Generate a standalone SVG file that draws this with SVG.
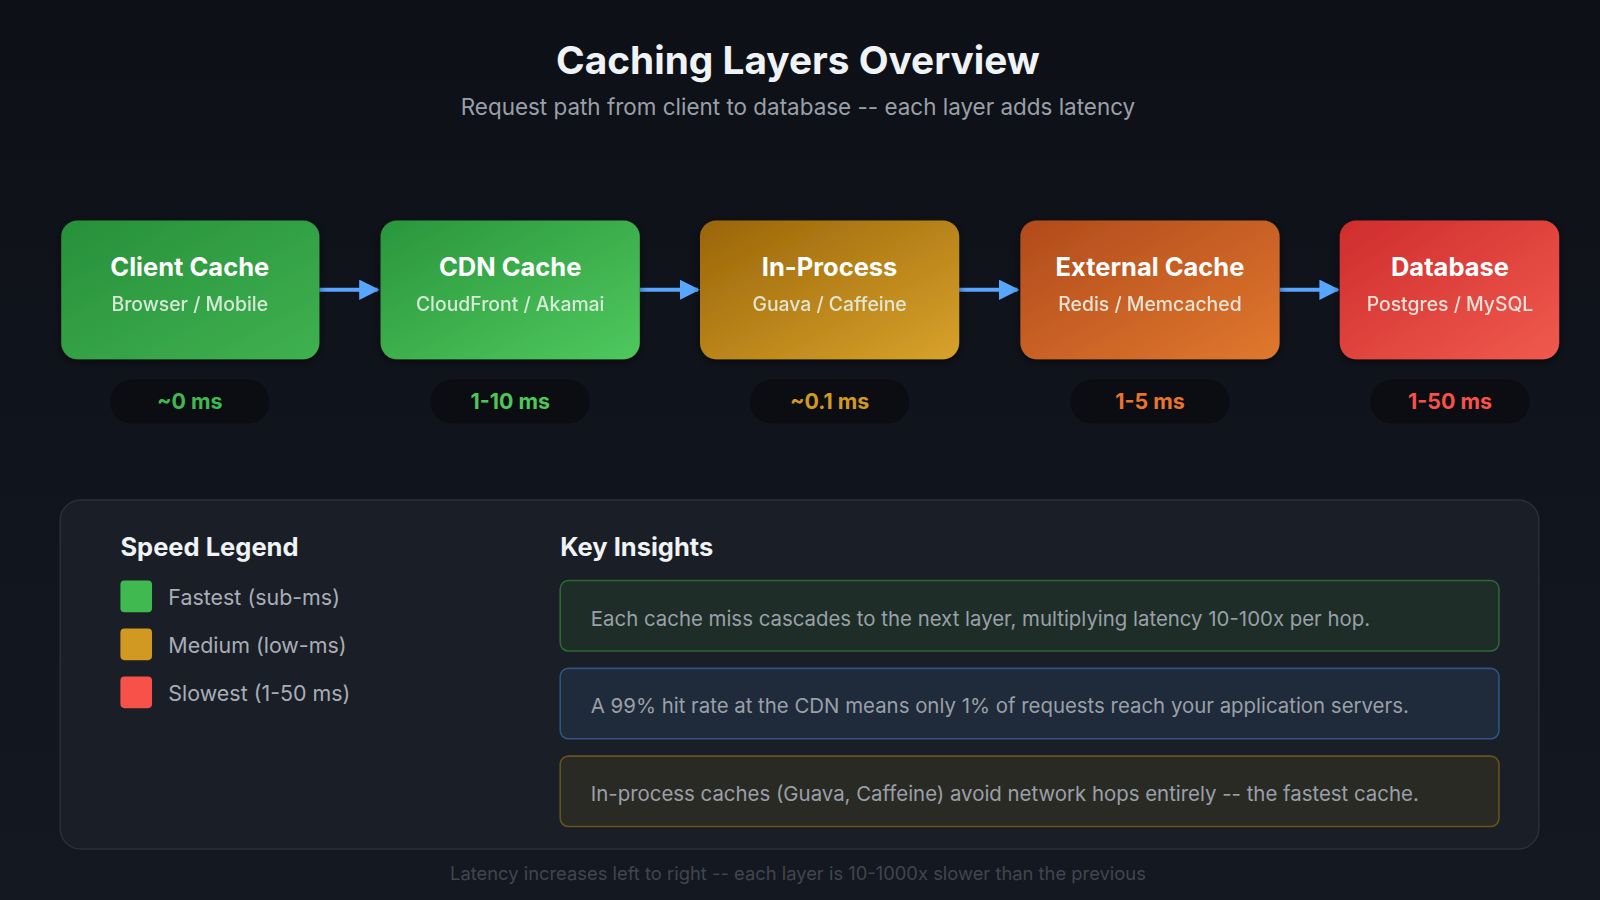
<svg xmlns="http://www.w3.org/2000/svg" width="1600" height="900" viewBox="0 0 1600 900">
<defs>
<linearGradient id="bg" x1="0" y1="0" x2="0" y2="1"><stop offset="0" stop-color="#0d1017"/><stop offset="1" stop-color="#141821"/></linearGradient>
<linearGradient id="gG" x1="0" y1="0" x2="1" y2="1"><stop offset="0" stop-color="#2a963c"/><stop offset="1" stop-color="#4fc85e"/></linearGradient>
<linearGradient id="gG1" x1="0" y1="0" x2="1" y2="1"><stop offset="0" stop-color="#27903a"/><stop offset="1" stop-color="#3fb150"/></linearGradient>
<linearGradient id="gY" x1="0" y1="0" x2="1" y2="1"><stop offset="0" stop-color="#9a6508"/><stop offset="1" stop-color="#d8a22c"/></linearGradient>
<linearGradient id="gO" x1="0" y1="0" x2="1" y2="1"><stop offset="0" stop-color="#b14a1c"/><stop offset="1" stop-color="#e0782e"/></linearGradient>
<linearGradient id="gR" x1="0" y1="0" x2="1" y2="1"><stop offset="0" stop-color="#cf2d2d"/><stop offset="1" stop-color="#f05a4e"/></linearGradient>
<marker id="arr" viewBox="0 0 10 10" refX="9" refY="5" markerWidth="5" markerHeight="5" orient="auto"><path d="M0,0 L10,5 L0,10 z" fill="#58a6ff"/></marker>
<filter id="sh" x="-10%" y="-10%" width="120%" height="130%"><feDropShadow dx="0" dy="3" stdDeviation="4" flood-color="#000" flood-opacity="0.5"/></filter>
</defs>
<style>
text{font-family:Inter,"Noto Sans","Liberation Sans",sans-serif}
.nt{font-size:25px;font-weight:700;fill:#fff;text-anchor:middle}
.ns{font-size:19px;font-weight:500;fill:#e6f0e6;text-anchor:middle;opacity:0.9}
.pill{fill:#0b0d12}
.pt{font-size:21px;font-weight:700;text-anchor:middle}
.h{font-size:25px;font-weight:700;fill:#f0f3f6}
.lg{font-size:21px;fill:#a8aeb6}
.ki{font-size:20px;fill:#9aa0a8}
</style>
<rect width="1600" height="900" fill="url(#bg)"/>
<g transform="scale(1.0204)">
<text x="782" y="73" text-anchor="middle" font-size="38" font-weight="700" fill="#f0f3f6">Caching Layers Overview</text>
<text x="782" y="113" text-anchor="middle" font-size="22" fill="#9aa0a8">Request path from client to database -- each layer adds latency</text>
<g id="connectors" stroke="#58a6ff" stroke-width="4" marker-end="url(#arr)">
<line x1="313" y1="284" x2="370" y2="284"/>
<line x1="627" y1="284" x2="684" y2="284"/>
<line x1="940" y1="284" x2="997" y2="284"/>
<line x1="1254" y1="284" x2="1311" y2="284"/>
</g>
<g id="client"><rect x="60" y="216" width="253" height="136" rx="16" fill="url(#gG1)" filter="url(#sh)"/><text class="nt" x="186" y="270">Client Cache</text><text class="ns" x="186" y="305">Browser / Mobile</text><rect class="pill" x="108" y="372" width="156" height="43" rx="21"/><text class="pt" x="186" y="401" fill="#3fb950">~0 ms</text></g>
<g id="cdn"><rect x="373" y="216" width="254" height="136" rx="16" fill="url(#gG)" filter="url(#sh)"/><text class="nt" x="500" y="270">CDN Cache</text><text class="ns" x="500" y="305">CloudFront / Akamai</text><rect class="pill" x="422" y="372" width="156" height="43" rx="21"/><text class="pt" x="500" y="401" fill="#4cc75a">1-10 ms</text></g>
<g id="inproc"><rect x="686" y="216" width="254" height="136" rx="16" fill="url(#gY)" filter="url(#sh)"/><text class="nt" x="813" y="270">In-Process</text><text class="ns" x="813" y="305">Guava / Caffeine</text><rect class="pill" x="735" y="372" width="156" height="43" rx="21"/><text class="pt" x="813" y="401" fill="#d29922">~0.1 ms</text></g>
<g id="external"><rect x="1000" y="216" width="254" height="136" rx="16" fill="url(#gO)" filter="url(#sh)"/><text class="nt" x="1127" y="270">External Cache</text><text class="ns" x="1127" y="305">Redis / Memcached</text><rect class="pill" x="1049" y="372" width="156" height="43" rx="21"/><text class="pt" x="1127" y="401" fill="#e8742e">1-5 ms</text></g>
<g id="database"><rect x="1313" y="216" width="215" height="136" rx="16" fill="url(#gR)" filter="url(#sh)"/><text class="nt" x="1421" y="270">Database</text><text class="ns" x="1421" y="305">Postgres / MySQL</text><rect class="pill" x="1343" y="372" width="156" height="43" rx="21"/><text class="pt" x="1421" y="401" fill="#f85149">1-50 ms</text></g>
<g id="panel">
<rect x="59" y="490" width="1449" height="342" rx="20" fill="#1a1e26" stroke="#2a2f38" stroke-width="1.5"/>
<text class="h" x="118" y="545">Speed Legend</text>
<rect x="118" y="569" width="31" height="31" rx="4" fill="#3fb950"/><text class="lg" x="165" y="593">Fastest (sub-ms)</text>
<rect x="118" y="616" width="31" height="31" rx="4" fill="#d29922"/><text class="lg" x="165" y="640">Medium (low-ms)</text>
<rect x="118" y="663" width="31" height="31" rx="4" fill="#f85149"/><text class="lg" x="165" y="687">Slowest (1-50 ms)</text>
<text class="h" x="549" y="545">Key Insights</text>
<rect x="549" y="569" width="920" height="69" rx="8" fill="#1e2d27" stroke="#2b6a35" stroke-width="1.5"/>
<text class="ki" x="579" y="613">Each cache miss cascades to the next layer, multiplying latency 10-100x per hop.</text>
<rect x="549" y="655" width="920" height="69" rx="8" fill="#1f2a3a" stroke="#2f5586" stroke-width="1.5"/>
<text class="ki" x="579" y="699">A 99% hit rate at the CDN means only 1% of requests reach your application servers.</text>
<rect x="549" y="741" width="920" height="69" rx="8" fill="#2a2a25" stroke="#6a5220" stroke-width="1.5"/>
<text class="ki" x="579" y="785">In-process caches (Guava, Caffeine) avoid network hops entirely -- the fastest cache.</text>
</g>
<text x="782" y="862" text-anchor="middle" font-size="18" fill="#40464f">Latency increases left to right -- each layer is 10-1000x slower than the previous</text>
</g>
</svg>
